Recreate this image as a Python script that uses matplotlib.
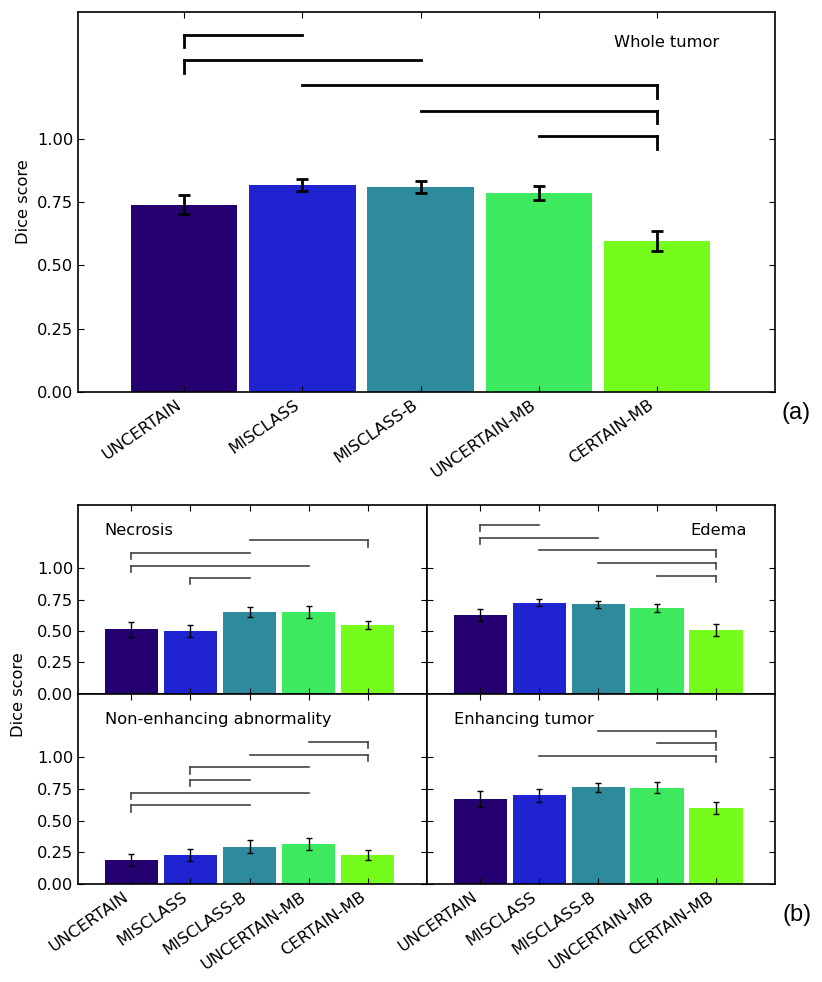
import matplotlib
matplotlib.use('Agg')
import matplotlib.pyplot as plt

methods = ['UNCERTAIN', 'MISCLASS', 'MISCLASS-B', 'UNCERTAIN-MB', 'CERTAIN-MB']
colors = ['#250070', '#1f24d0', '#2d8b9d', '#3ce95f', '#76fc1c']

# whole tumor
whole_mean = [0.740, 0.818, 0.810, 0.785, 0.596]
whole_err = [0.038, 0.023, 0.023, 0.027, 0.041]
# brackets: (from, to, height, index with the drop)
whole_brackets = [(0, 1, 1.41, 0), (0, 2, 1.31, 0), (1, 4, 1.21, 4),
                  (2, 4, 1.11, 4), (3, 4, 1.01, 4)]

necrosis_mean = [0.512, 0.499, 0.651, 0.648, 0.544]
necrosis_err = [0.060, 0.050, 0.041, 0.047, 0.032]
necrosis_brackets = [(2, 4, 1.22, 4), (0, 2, 1.12, 0), (0, 3, 1.02, 0), (1, 2, 0.92, 1)]

edema_mean = [0.627, 0.723, 0.712, 0.683, 0.507]
edema_err = [0.047, 0.028, 0.029, 0.030, 0.045]
edema_brackets = [(0, 1, 1.34, 0), (0, 2, 1.24, 0), (1, 4, 1.14, 4),
                  (2, 4, 1.04, 4), (3, 4, 0.94, 4)]

nonenh_mean = [0.191, 0.229, 0.295, 0.314, 0.229]
nonenh_err = [0.047, 0.049, 0.050, 0.049, 0.039]
nonenh_brackets = [(3, 4, 1.12, 4), (2, 4, 1.02, 4), (1, 3, 0.92, 1),
                   (1, 2, 0.82, 1), (0, 3, 0.72, 0), (0, 2, 0.62, 0)]

enh_mean = [0.673, 0.699, 0.763, 0.761, 0.601]
enh_err = [0.062, 0.053, 0.035, 0.041, 0.048]
enh_brackets = [(2, 4, 1.21, 4), (3, 4, 1.11, 4), (1, 4, 1.01, 4)]

yticks = [0.0, 0.25, 0.5, 0.75, 1.0]

plt.rcParams['xtick.direction'] = 'in'
plt.rcParams['ytick.direction'] = 'in'
plt.rcParams['xtick.top'] = True
plt.rcParams['ytick.right'] = True
plt.rcParams['xtick.major.size'] = 4
plt.rcParams['ytick.major.size'] = 4
plt.rcParams['font.size'] = 11.7


def draw_panel(ax, means, errs, brackets, title, tx, ha, big=False):
  x = list(range(len(means)))
  if big:
    ekw = dict(elinewidth=2, capthick=2, capsize=4)
    blw, bcol = 2, 'black'
  else:
    ekw = dict(elinewidth=1, capthick=1, capsize=2.2)
    blw, bcol = 1.2, '#444444'
  ax.bar(x, means, width=0.9, color=colors, edgecolor='none')
  ax.errorbar(x, means, yerr=errs, fmt='none', ecolor='black', **ekw)
  for a, b, h, d in brackets:
    ax.plot([a, b], [h, h], color=bcol, lw=blw)
    ax.plot([d, d], [h, h - 0.05], color=bcol, lw=blw)
  ax.text(tx, 1.30 if not big else 1.38, title, ha=ha, va='center', fontsize=11.7)
  ax.set_xlim(-0.9, 5.0)
  ax.set_ylim(0, 1.5)
  ax.set_xticks(x)
  ax.set_yticks(yticks)
  for s in ax.spines.values():
    s.set_linewidth(1.2)


fig = plt.figure(figsize=(8.22, 9.82), dpi=100)

ax0 = fig.add_axes([0.0949, 0.6008, 0.8479, 0.3870])
draw_panel(ax0, whole_mean, whole_err, whole_brackets, 'Whole tumor', 4.53, 'right', big=True)
ax0.set_xticklabels(methods, rotation=35, ha='right')
ax0.set_ylabel('Dice score')

left, mid, right = 0.0949, 0.5195, 0.9428
bot, hmid, top = 0.0998, 0.2933, 0.4857
w1, w2 = mid - left, right - mid
h1, h2 = top - hmid, hmid - bot

ax1 = fig.add_axes([left, hmid, w1, h1])
ax2 = fig.add_axes([mid, hmid, w2, h1])
ax3 = fig.add_axes([left, bot, w1, h2])
ax4 = fig.add_axes([mid, bot, w2, h2])

draw_panel(ax1, necrosis_mean, necrosis_err, necrosis_brackets, 'Necrosis', -0.45, 'left')
draw_panel(ax2, edema_mean, edema_err, edema_brackets, 'Edema', 4.53, 'right')
draw_panel(ax3, nonenh_mean, nonenh_err, nonenh_brackets, 'Non-enhancing abnormality', -0.45, 'left')
draw_panel(ax4, enh_mean, enh_err, enh_brackets, 'Enhancing tumor', -0.45, 'left')

for ax in (ax1, ax2):
  ax.set_xticklabels([])
for ax in (ax2, ax4):
  ax.set_yticklabels([])
for ax in (ax3, ax4):
  ax.set_xticklabels(methods, rotation=35, ha='right')

fig.text(0.022, (bot + top) / 2, 'Dice score', rotation=90, ha='center', va='center', fontsize=11.7)
fig.text(0.968, 0.579, '(a)', family='Liberation Sans', fontsize=17, ha='center', va='center')
fig.text(0.970, 0.068, '(b)', family='Liberation Sans', fontsize=17, ha='center', va='center')

plt.savefig('out.png', dpi=100)
plt.close()
